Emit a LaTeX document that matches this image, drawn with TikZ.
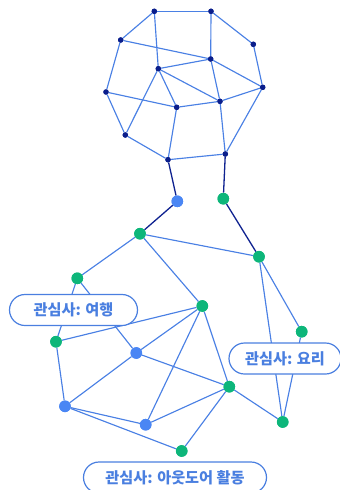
\documentclass[tikz,border=0pt]{standalone}
\usepackage{fontspec}
\newfontfamily\kr{Noto Sans CJK KR}
\definecolor{edgec}{HTML}{4A80E4}
\definecolor{darkc}{HTML}{0F2290}
\definecolor{navyc}{HTML}{0A1E8C}
\definecolor{grnc}{HTML}{0DB67A}
\definecolor{bluc}{HTML}{4A86F4}
\definecolor{lblc}{HTML}{4A7FE0}
\begin{document}
\begin{tikzpicture}[x=1pt,y=-1pt,
  smallnode/.style={circle,fill=navyc,inner sep=0pt,minimum size=5.4pt},
  gnode/.style={circle,fill=grnc,inner sep=0pt,minimum size=11.6pt},
  bnode/.style={circle,fill=bluc,inner sep=0pt,minimum size=11.6pt},
  ed/.style={draw=edgec,line width=1.15pt},
  dk/.style={draw=darkc,line width=1.3pt},
  pill/.style={draw=lblc,line width=1.2pt,fill=white,rounded corners=15.5pt,
    text=lblc,font=\kr\bfseries\fontsize{15.2}{17}\selectfont,inner sep=0pt,minimum height=31pt}]
\useasboundingbox (0,0) rectangle (340,490);
% top cluster
\node[smallnode] (A) at (154.3,11.3) {};
\node[smallnode] (B) at (211,11.3) {};
\node[smallnode] (C) at (120.7,40) {};
\node[smallnode] (D) at (253.3,44.3) {};
\node[smallnode] (E) at (210.7,59) {};
\node[smallnode] (F) at (158.3,68.7) {};
\node[smallnode] (G) at (106,92) {};
\node[smallnode] (H) at (262.7,87.3) {};
\node[smallnode] (I) at (176.7,107.3) {};
\node[smallnode] (J) at (220,101.3) {};
\node[smallnode] (K) at (125.3,135) {};
\node[smallnode] (L) at (168,159.7) {};
\node[smallnode] (M) at (225.3,154) {};
% lower nodes
\node[bnode] (N1) at (177.3,201.3) {};
\node[gnode] (N2) at (223.3,198.7) {};
\node[gnode] (P) at (140,233.7) {};
\node[gnode] (Q) at (259,256.7) {};
\node[gnode] (R) at (77.3,278.3) {};
\node[gnode] (S) at (202.3,306) {};
\node[gnode] (T) at (301.7,331.7) {};
\node[gnode] (U) at (56,341.7) {};
\node[bnode] (V) at (136.3,353) {};
\node[gnode] (W) at (229.3,386.7) {};
\node[bnode] (X) at (65,406.3) {};
\node[bnode] (Y) at (145.7,424.7) {};
\node[gnode] (Z) at (282.7,422) {};
\node[gnode] (AA) at (181.7,451) {};
% edges
\foreach \a/\b in {A/B,A/C,A/F,B/E,B/D,C/G,C/E,D/H,E/F,E/H,E/J,F/I,F/J,F/K,G/I,G/K,H/J,H/M,I/J,I/L,K/L,L/M,J/M,
  P/Q,P/R,P/S,Q/Z,Q/T,T/Z,R/U,R/V,S/U,S/V,S/Y,S/W,U/X,V/X,V/W,X/Y,X/AA,Y/W,W/AA,W/Z}
  \draw[ed] (\a) -- (\b);
\draw[dk] (L) -- (N1);
\draw[dk] (M) -- (N2);
\draw[dk] (N1) -- (P);
\draw[dk] (N2) -- (Q);
% nodes on top of edges
\foreach \n in {A,B,C,D,E,F,G,H,I,J,K,L,M}
  \fill[navyc] (\n) circle (2.7pt);
\foreach \n in {N2,P,Q,R,S,T,U,W,Z,AA}
  \fill[grnc] (\n) circle (5.8pt);
\foreach \n in {N1,V,X,Y}
  \fill[bluc] (\n) circle (5.8pt);
% labels
\node[pill,minimum width=128pt] (l1) at (73.5,310) {관심사: 여행};
\node[pill,minimum width=112pt] (l2) at (285,358.5) {관심사: 요리};
\node[pill,minimum width=183pt] (l3) at (175,477.5) {관심사: 아웃도어 활동};
\end{tikzpicture}
\end{document}
